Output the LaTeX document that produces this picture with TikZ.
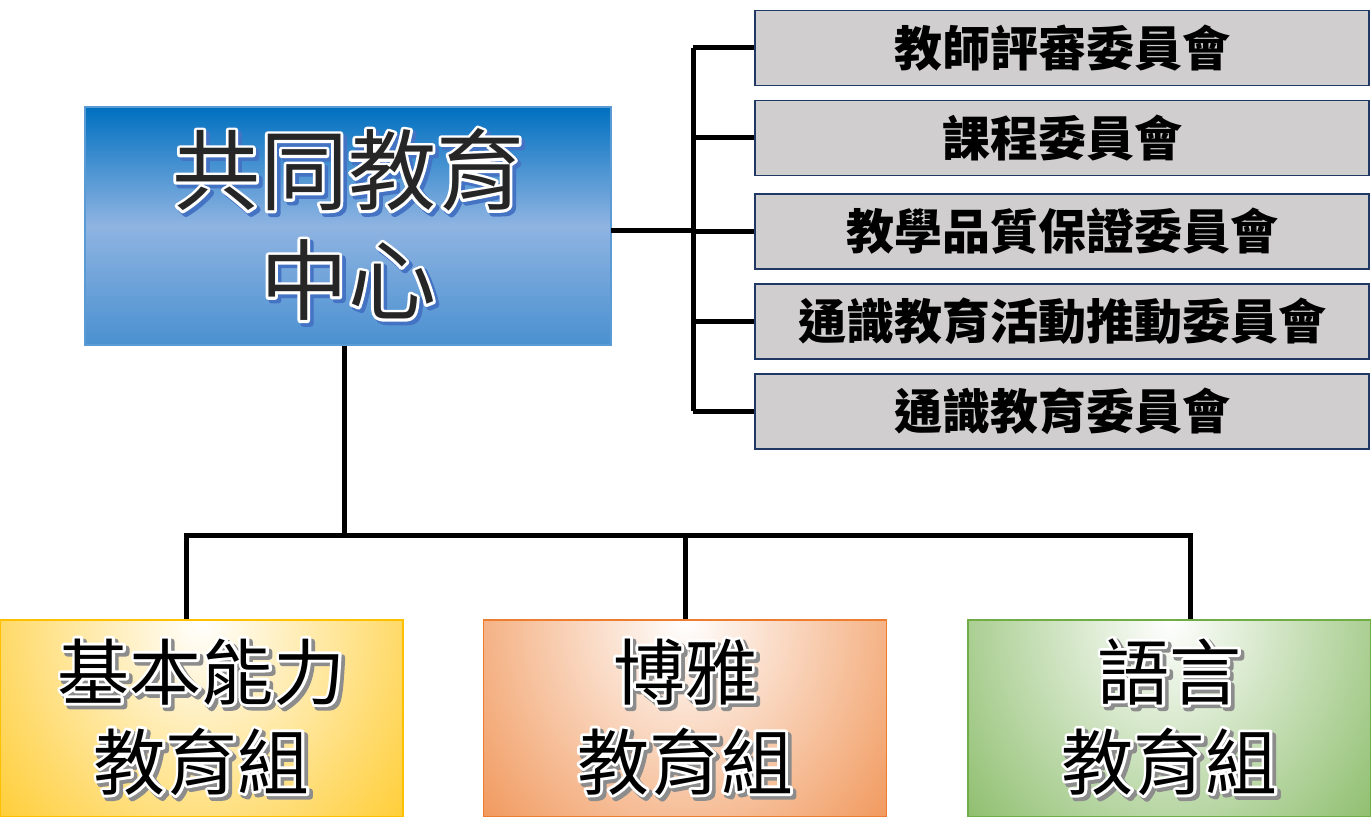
\documentclass[tikz,border=0pt]{standalone}
\usepackage{fontspec}
\newfontfamily\cjk{Noto Sans CJK TC}
\definecolor{mainTop}{RGB}{0,112,192}
\definecolor{mainMid}{RGB}{143,180,226}
\definecolor{mainBot}{RGB}{74,144,208}
\definecolor{mainLine}{RGB}{91,155,213}
\definecolor{grayFill}{RGB}{208,206,206}
\definecolor{grayLine}{RGB}{32,56,100}
\definecolor{yel}{RGB}{255,192,0}
\definecolor{ora}{RGB}{237,125,49}
\definecolor{grn}{RGB}{112,173,71}
\definecolor{txtDark}{RGB}{38,38,38}
\definecolor{shBlue}{rgb}{0.27,0.45,0.77}
\definecolor{shGray}{rgb}{0.55,0.55,0.55}
% #1 shadow colour name, #2 same as rgb triple, #3 text : shadow, white outline, then the fill
\newcommand\fxline[3]{%
  \makebox[0pt][l]{\hspace{1.6pt}\raisebox{-1.6pt}{\color{#1}\special{pdf:literal direct 2 Tr 3.2 w 1 j #2 RG}#3\special{pdf:literal direct 0 Tr}}}%
  \makebox[0pt][l]{\special{pdf:literal direct 1 Tr 2.8 w 1 j 1 1 1 RG}#3\special{pdf:literal direct 0 Tr}}%
  #3}
\tikzset{
  x=0.5pt, y=-0.5pt,
  link/.style={line width=2.5pt, black},
  committee/.style={draw=grayLine, line width=0.8pt, fill=grayFill, minimum width=307pt, minimum height=37.5pt, inner sep=0pt,
     font=\cjk\bfseries\fontsize{24}{28}\selectfont, text=black},
  groupbox/.style={draw=#1, line width=0.8pt, minimum width=201.5pt, minimum height=98.5pt, inner sep=0pt,
     align=center, font=\cjk\fontsize{36}{45}\selectfont, text=black,
     path picture={\fill[#1] (path picture bounding box.south west) rectangle (path picture bounding box.north east);
       \shade[inner color=white, outer color=#1] (path picture bounding box.north) ellipse [x radius=170pt, y radius=195pt];}},
}
\begin{document}
\begin{tikzpicture}
\useasboundingbox (0,0) rectangle (1371,817);
% main box
\node[draw=mainLine, line width=0.8pt, minimum width=263pt, minimum height=119pt, inner sep=0pt,
      top color=mainTop, bottom color=mainBot, middle color=mainMid,
      align=center, font=\cjk\fontsize{44}{55}\selectfont, text=txtDark]
  (main) at (348,226) {\fxline{shBlue}{0.27 0.45 0.77}{共同教育}\\\fxline{shBlue}{0.27 0.45 0.77}{中心}};
% committees
\node[committee] (c1) at (1062,48) {教師評審委員會};
\node[committee] (c2) at (1062,138) {課程委員會};
\node[committee] (c3) at (1062,231.5) {教學品質保證委員會};
\node[committee] (c4) at (1062,321.5) {通識教育活動推動委員會};
\node[committee] (c5) at (1062,411.5) {通識教育委員會};
% groups
\node[groupbox=yel] (g1) at (201.5,718.5) {\fxline{shGray}{0.55 0.55 0.55}{基本能力}\\\fxline{shGray}{0.55 0.55 0.55}{教育組}};
\node[groupbox=ora] (g2) at (685,718.5) {\fxline{shGray}{0.55 0.55 0.55}{博雅}\\\fxline{shGray}{0.55 0.55 0.55}{教育組}};
\node[groupbox=grn] (g3) at (1169.5,718.5) {\fxline{shGray}{0.55 0.55 0.55}{語言}\\\fxline{shGray}{0.55 0.55 0.55}{教育組}};
% connectors to committees
\coordinate (bus) at (693,231);
\coordinate (mr) at (611,231);
\draw[link] (mr) -- (bus);
\draw[link] (c1.west -| bus) -- (c5.west -| bus);
\foreach \c in {c1,c2,c3,c4,c5} \draw[link] (\c.west -| bus) -- (\c.west);
% connectors to groups
\coordinate (hb) at (344,536);
\coordinate (d1) at (186,536);
\coordinate (d2) at (685,536);
\coordinate (d3) at (1190,536);
\draw[link] (main.south -| hb) -- (hb);
\draw[link, line cap=rect] (d1) -- (d3);
\draw[link] (d1) -- (d1 |- g1.north);
\draw[link] (d2) -- (d2 |- g2.north);
\draw[link] (d3) -- (d3 |- g3.north);
\end{tikzpicture}
\end{document}
